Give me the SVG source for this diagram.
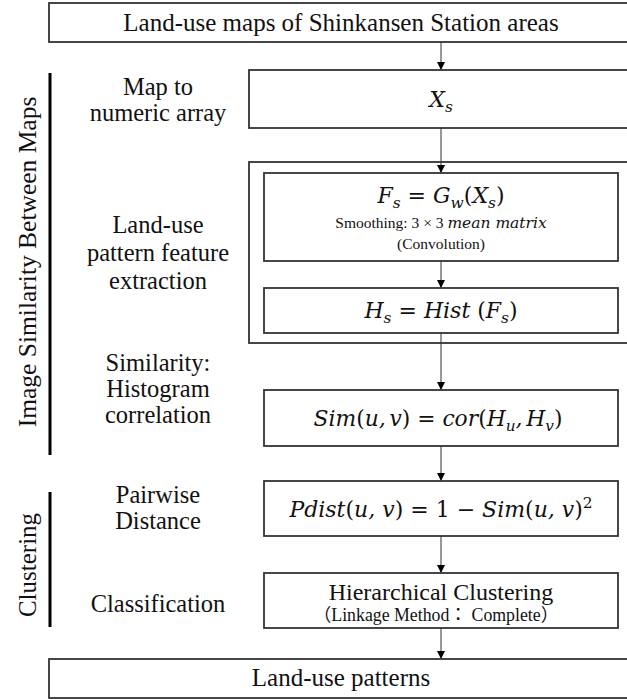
<svg xmlns="http://www.w3.org/2000/svg" width="627" height="699" viewBox="0 0 627 699">
<defs>
<marker id="arr" viewBox="0 0 8 8" markerWidth="8" markerHeight="8" refX="8" refY="4" orient="auto" markerUnits="userSpaceOnUse">
<path d="M0,0 L8,4 L0,8 Z" fill="#000"/>
</marker>
</defs>
<style>
.box{fill:#fff;stroke:#333;stroke-width:1.8}
.t{font-family:"Liberation Serif","Times New Roman",serif;fill:#111;text-anchor:middle}
.m{font-family:"DejaVu Serif","Liberation Serif",serif;font-style:italic;fill:#111;text-anchor:middle}
.up{font-style:normal}
.sub{font-size:70%}
.bar{stroke:#000;stroke-width:3}
.c{stroke:#333;stroke-width:1;fill:none;marker-end:url(#arr)}
</style>
<rect width="627" height="699" fill="#fff"/>

<g id="side-labels">
<line class="bar" x1="50" y1="73" x2="50" y2="455"/>
<text class="t" font-size="25.5" transform="translate(36,262) rotate(-90)">Image Similarity Between Maps</text>
<line class="bar" x1="50" y1="492" x2="50" y2="627"/>
<text class="t" font-size="25" transform="translate(36,565) rotate(-90)">Clustering</text>
</g>

<g id="step-labels" class="t" font-size="24.5">
<text x="158" y="95">Map to</text>
<text x="158" y="121">numeric array</text>
<text x="158" y="233">Land-use</text>
<text x="158" y="261">pattern feature</text>
<text x="158" y="289">extraction</text>
<text x="158" y="371">Similarity:</text>
<text x="158" y="397">Histogram</text>
<text x="158" y="423">correlation</text>
<text x="158" y="503">Pairwise</text>
<text x="158" y="529">Distance</text>
<text x="158" y="612">Classification</text>
</g>

<g id="connectors">
<line class="c" x1="441" y1="42" x2="441" y2="70"/>
<line class="c" x1="441" y1="128" x2="441" y2="173"/>
<line class="c" x1="441" y1="261" x2="441" y2="288"/>
<line class="c" x1="441" y1="333" x2="441" y2="390"/>
<line class="c" x1="441" y1="446" x2="441" y2="481"/>
<line class="c" x1="441" y1="536" x2="441" y2="573"/>
<line class="c" x1="441" y1="628" x2="441" y2="659"/>
</g>

<g id="n-input">
<rect class="box" x="49" y="3" width="600" height="39"/>
<text class="t" x="341" y="31" font-size="25">Land-use maps of Shinkansen Station areas</text>
</g>

<g id="n-xs">
<rect class="box" x="249" y="70" width="400" height="58"/>
<text class="m" x="441" y="107" font-size="22">X<tspan class="sub" dy="5">s</tspan></text>
</g>

<g id="n-feature">
<rect class="box" x="249" y="162" width="400" height="181" style="fill:none"/>
</g>

<g id="n-fs">
<rect class="box" x="264" y="173" width="354" height="88"/>
<text class="m" x="441" y="203" font-size="22">F<tspan class="sub" dy="5">s</tspan><tspan class="up" dy="-5"> =  </tspan>G<tspan class="sub" dy="5">w</tspan><tspan class="up" dy="-5">(</tspan>X<tspan class="sub" dy="5">s</tspan><tspan class="up" dy="-5">)</tspan></text>
<text class="t" x="441" y="228" font-size="15.5">Smoothing: 3 × 3 <tspan font-style="italic" font-family="DejaVu Serif">mean matrix</tspan></text>
<text class="t" x="441" y="249" font-size="15.5">(Convolution)</text>
</g>

<g id="n-hs">
<rect class="box" x="264" y="288" width="354" height="45"/>
<text class="m" x="441" y="318" font-size="22">H<tspan class="sub" dy="5">s</tspan><tspan class="up" dy="-5"> = </tspan>Hist <tspan class="up">(</tspan>F<tspan class="sub" dy="5">s</tspan><tspan class="up" dy="-5">)</tspan></text>
</g>

<g id="n-sim">
<rect class="box" x="264" y="390" width="354" height="56"/>
<text class="m" x="438" y="426" font-size="21.8">Sim<tspan class="up">(</tspan>u,<tspan font-size="12"> </tspan>v<tspan class="up">) = </tspan>cor<tspan class="up">(</tspan>H<tspan class="sub" dy="5">u</tspan><tspan dy="-5">,<tspan font-size="12"> </tspan>H</tspan><tspan class="sub" dy="5">v</tspan><tspan class="up" dy="-5">)</tspan></text>
</g>

<g id="n-pdist">
<rect class="box" x="264" y="481" width="354" height="55"/>
<text class="m" x="441" y="517" font-size="22">Pdist<tspan class="up">(</tspan>u, v<tspan class="up">) = 1 − </tspan>Sim<tspan class="up">(</tspan>u, v<tspan class="up">)</tspan><tspan class="up sub" dy="-9">2</tspan></text>
</g>

<g id="n-cluster">
<rect class="box" x="264" y="573" width="354" height="55"/>
<text class="t" x="441" y="600" font-size="24">Hierarchical Clustering</text>
<text class="t" x="436" y="621" font-size="17.8" style="font-family:'Liberation Serif','Noto Sans CJK JP',serif">（Linkage Method：  Complete）</text>
</g>

<g id="n-output">
<rect class="box" x="49" y="659" width="600" height="39"/>
<text class="t" x="341" y="686" font-size="25">Land-use patterns</text>
</g>
</svg>
